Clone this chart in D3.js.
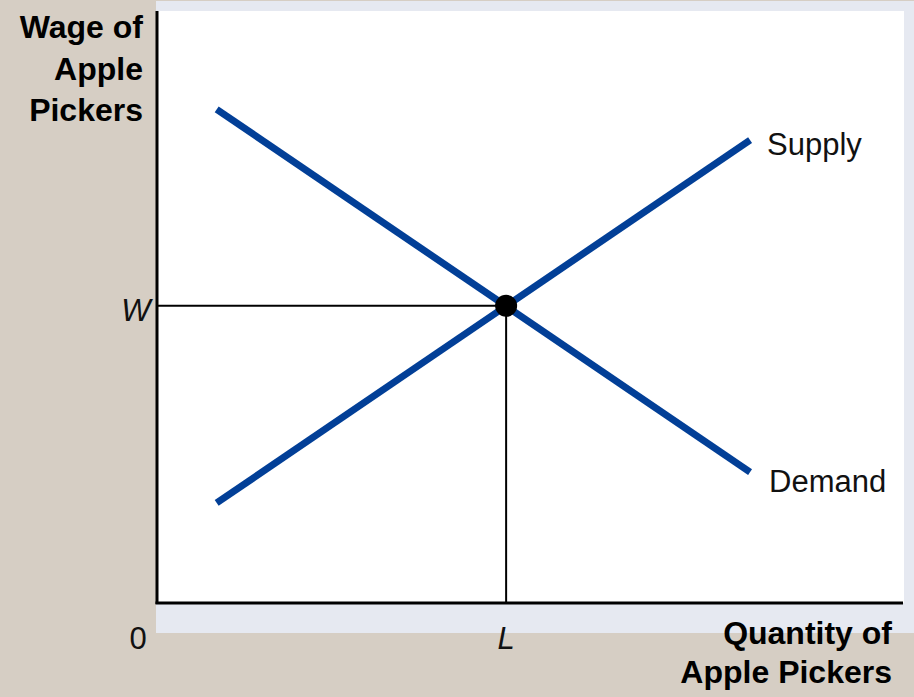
<!DOCTYPE html>
<html>
<head>
<meta charset="utf-8">
<script src="https://cdn.jsdelivr.net/npm/d3@7"></script>
<style>
  html, body { margin: 0; padding: 0; background: #d6cec4; }
  svg { display: block; }
  text { font-family: "Liberation Sans", Arial, sans-serif; }
</style>
</head>
<body>
<svg id="chart" width="914" height="697"></svg>
<script>
// ---- data (abstract units 0..100 on both axes) ----
const demandPoints = [[8, 83.4], [79.5, 22.1]];
const supplyPoints = [[8, 16.9], [79.5, 78.2]];
const equilibrium = [46.8, 50.2];
const curveLabels = ["Supply", "Demand"];
const yAxisTitle = ["Wage of", "Apple", "Pickers"];
const xAxisTitle = ["Quantity of", "Apple Pickers"];
const tickLabelW = "W";
const tickLabelL = "L";
const originLabel = "0";

const W = 914, H = 697;
const svg = d3.select("#chart");

const x = d3.scaleLinear().domain([0, 100]).range([157, 903]);
const y = d3.scaleLinear().domain([0, 100]).range([603, 11]);

// light panel background
svg.append("rect").attr("x", 156).attr("y", 1).attr("width", W - 156).attr("height", 632)
  .attr("fill", "#e6e9f1");
// white plot area
svg.append("rect").attr("x", x(0)).attr("y", y(100)).attr("width", 904 - x(0)).attr("height", y(0) - y(100))
  .attr("fill", "#ffffff");

// guide lines
svg.append("line")
  .attr("x1", x(0)).attr("x2", x(equilibrium[0]))
  .attr("y1", y(equilibrium[1])).attr("y2", y(equilibrium[1]))
  .attr("stroke", "#000").attr("stroke-width", 2);
svg.append("line")
  .attr("x1", x(equilibrium[0])).attr("x2", x(equilibrium[0]))
  .attr("y1", y(equilibrium[1])).attr("y2", y(0))
  .attr("stroke", "#000").attr("stroke-width", 2);

// axes
svg.append("line").attr("x1", x(0)).attr("x2", x(0)).attr("y1", y(100)).attr("y2", y(0) + 1)
  .attr("stroke", "#000").attr("stroke-width", 3);
svg.append("line").attr("x1", x(0) - 1.5).attr("x2", x(100)).attr("y1", y(0)).attr("y2", y(0))
  .attr("stroke", "#000").attr("stroke-width", 3);

// curves
const line = d3.line().x(d => x(d[0])).y(d => y(d[1]));
[demandPoints, supplyPoints].forEach(pts => {
  svg.append("path").attr("d", line(pts))
    .attr("fill", "none").attr("stroke", "#023f97").attr("stroke-width", 7);
});

// equilibrium dot
svg.append("circle").attr("cx", x(equilibrium[0])).attr("cy", y(equilibrium[1]))
  .attr("r", 11).attr("fill", "#000");

// curve labels
svg.append("text").attr("x", x(supplyPoints[1][0]) + 17).attr("y", 155)
  .attr("font-size", 31).attr("fill", "#111").text(curveLabels[0]);
svg.append("text").attr("x", x(demandPoints[1][0]) + 19).attr("y", 492)
  .attr("font-size", 31).attr("fill", "#111").text(curveLabels[1]);

// tick labels
svg.append("text").attr("x", 136).attr("y", 321).attr("text-anchor", "middle")
  .attr("font-size", 31).attr("font-style", "italic").attr("fill", "#111").text(tickLabelW);
svg.append("text").attr("x", x(equilibrium[0])).attr("y", 649).attr("text-anchor", "middle")
  .attr("font-size", 31).attr("font-style", "italic").attr("fill", "#111").text(tickLabelL);
svg.append("text").attr("x", 138).attr("y", 649).attr("text-anchor", "middle")
  .attr("font-size", 31).attr("fill", "#111").text(originLabel);

// axis titles
const yt = svg.append("text").attr("text-anchor", "end").attr("font-size", 32)
  .attr("font-weight", "bold").attr("fill", "#000");
yAxisTitle.forEach((s, i) => yt.append("tspan").attr("x", 143).attr("y", 38 + i * 41.5).text(s));
const xt = svg.append("text").attr("text-anchor", "end").attr("font-size", 32)
  .attr("font-weight", "bold").attr("fill", "#000");
xAxisTitle.forEach((s, i) => xt.append("tspan").attr("x", 892).attr("y", 644 + i * 39).text(s));
</script>
</body>
</html>
